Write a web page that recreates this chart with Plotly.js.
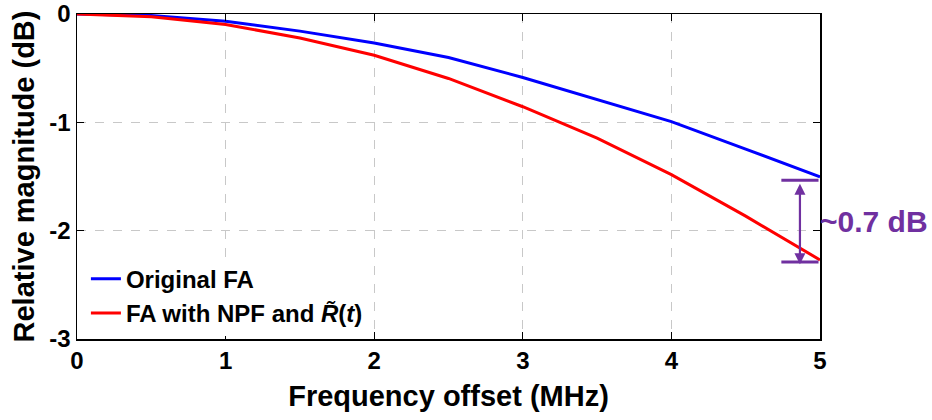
<!DOCTYPE html>
<html>
<head>
<meta charset="utf-8">
<script src="https://cdn.plot.ly/plotly-3.0.1.min.js"></script>
<style>html,body{margin:0;padding:0;background:#fff;}#chart{width:932px;height:420px;}</style>
</head>
<body>
<div id="chart"></div>
<script>
const freqMHz = [0, 0.5, 1, 1.5, 2, 2.5, 3, 3.5, 4, 4.5, 5];
const originalFA = [0, -0.015, -0.066, -0.158, -0.268, -0.402, -0.586, -0.788, -0.994, -1.247, -1.504];
const faNPF = [0, -0.025, -0.096, -0.222, -0.381, -0.595, -0.856, -1.146, -1.483, -1.866, -2.27];
const xTicks = [0, 1, 2, 3, 4, 5];
const yTicks = [0, -1, -2, -3];
const seriesNames = ["Original FA", "FA with NPF and <i>R\u0303</i>(<i>t</i>)"];
const gapLabel = "~0.7 dB";

const purple = "#7030A0";
const font = "Arial, 'Liberation Sans', sans-serif";
const lastBlue = originalFA[originalFA.length - 1];
const lastRed = faNPF[faNPF.length - 1];

const traces = [
  {x: freqMHz, y: originalFA, name: seriesNames[0], type: "scatter", mode: "lines",
   line: {color: "#0000FF", width: 3}, cliponaxis: false},
  {x: freqMHz, y: faNPF, name: seriesNames[1], type: "scatter", mode: "lines",
   line: {color: "#FF0000", width: 3}, cliponaxis: false}
];

const axisCommon = {
  showline: true, linecolor: "#000", linewidth: 1.5, mirror: "ticks",
  ticks: "inside", ticklen: 7, tickcolor: "#000", tickwidth: 1.2,
  showgrid: true, gridcolor: "#c8c8c8", griddash: "dash", gridwidth: 1,
  zeroline: false,
  tickfont: {family: font, size: 24, color: "#000", weight: "bold"}
};

const layout = {
  width: 932, height: 420,
  margin: {l: 77, r: 112, t: 14, b: 81},
  paper_bgcolor: "#fff", plot_bgcolor: "#fff",
  showlegend: true,
  legend: {x: 0.012, y: 0.01, xanchor: "left", yanchor: "bottom",
           bgcolor: "rgba(255,255,255,1)", borderwidth: 0,
           font: {family: font, size: 24, color: "#000", weight: "bold"},
           tracegroupgap: 0, itemwidth: 30},
  xaxis: Object.assign({}, axisCommon, {
    range: [0, 5], tickvals: xTicks, ticktext: xTicks.map(String),
    title: {text: "Frequency offset (MHz)", standoff: 12,
            font: {family: font, size: 29, color: "#000", weight: "bold"}}
  }),
  yaxis: Object.assign({}, axisCommon, {
    range: [-3, 0], tickvals: yTicks, ticktext: yTicks.map(String),
    title: {text: "Relative magnitude (dB)", standoff: 6,
            font: {family: font, size: 29, color: "#000", weight: "bold"}}
  }),
  shapes: [
    {type: "line", xref: "x", yref: "y", x0: 4.74, x1: 4.99, y0: lastBlue - 0.03, y1: lastBlue - 0.03,
     line: {color: purple, width: 3}},
    {type: "line", xref: "x", yref: "y", x0: 4.74, x1: 4.99, y0: lastRed - 0.02, y1: lastRed - 0.02,
     line: {color: purple, width: 3}}
  ],
  annotations: [
    {xref: "x", yref: "y", axref: "x", ayref: "y",
     x: 4.865, y: lastRed - 0.04, ax: 4.865, ay: lastBlue - 0.05,
     showarrow: true, arrowhead: 2, startarrowhead: 2, arrowside: "end+start",
     arrowsize: 1, startarrowsize: 1, arrowwidth: 2.2, arrowcolor: purple, text: ""},
    {xref: "x", yref: "y", x: 5, y: -1.915, xanchor: "left", yanchor: "middle", xshift: -2,
     showarrow: false, text: gapLabel,
     font: {family: font, size: 30, color: purple, weight: "bold"}}
  ]
};

Plotly.newPlot("chart", traces, layout, {displayModeBar: false, staticPlot: true});
</script>
</body>
</html>
